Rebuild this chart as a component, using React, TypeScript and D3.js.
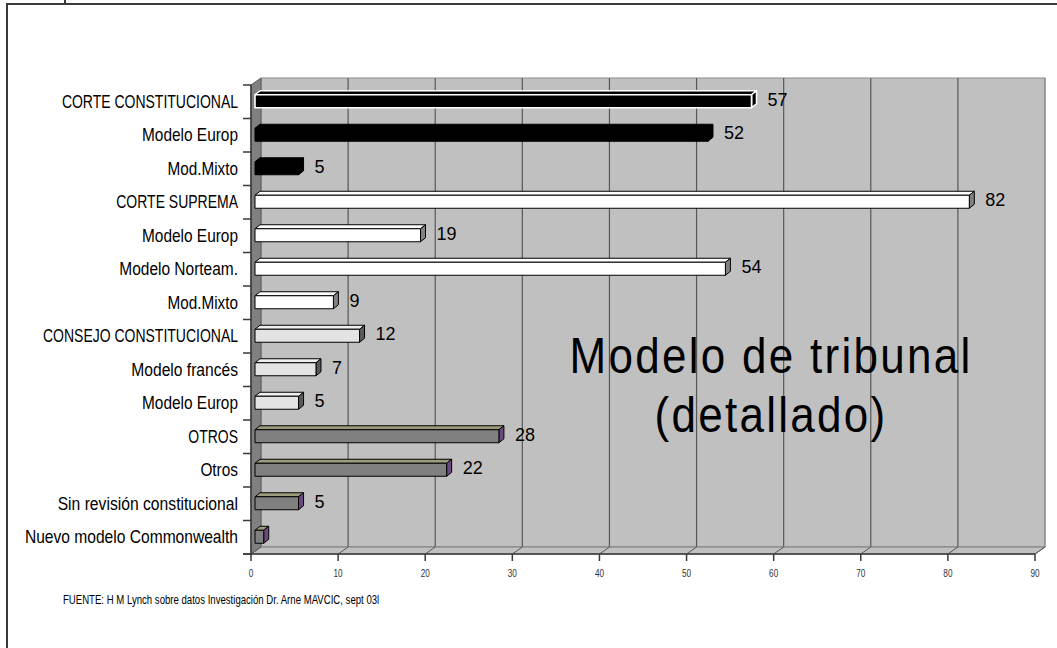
import React from 'react';
import * as d3 from 'd3';

// categories, top to bottom (names repeat, so rows are keyed by index)
const categories = [
  'CORTE CONSTITUCIONAL',
  'Modelo Europ',
  'Mod.Mixto',
  'CORTE SUPREMA',
  'Modelo Europ',
  'Modelo Norteam.',
  'Mod.Mixto',
  'CONSEJO CONSTITUCIONAL',
  'Modelo francés',
  'Modelo Europ',
  'OTROS',
  'Otros',
  'Sin revisión constitucional',
  'Nuevo modelo Commonwealth',
];
const values = [57, 52, 5, 82, 19, 54, 9, 12, 7, 5, 28, 22, 5, 1];
// which family each row belongs to (drives the colour)
const groups = ['head1', 'cc', 'cc', 'cs', 'cs', 'cs', 'cs', 'cons', 'cons', 'cons', 'otros', 'otros', 'otros', 'otros'];
// rows whose value label is not shown
const hiddenLabels = [13];
const xTicks = [0, 10, 20, 30, 40, 50, 60, 70, 80, 90];

const titleLines = ['Modelo de tribunal', '(detallado)'];
const source = 'FUENTE: H M Lynch sobre datos Investigación Dr. Arne MAVCIC, sept 03l';

const W = 1057;
const H = 648;
const sans = "'Liberation Sans', Arial, sans-serif";

// face colours per group: front, top, side, stroke
const palette: Record<string, { front: string; top: string; side: string; stroke: string }> = {
  head1: { front: '#000000', top: '#000000', side: '#000000', stroke: '#ffffff' },
  cc: { front: '#000000', top: '#000000', side: '#000000', stroke: '#000000' },
  cs: { front: '#ffffff', top: '#ffffff', side: '#808080', stroke: '#000000' },
  cons: { front: '#e3e3e3', top: '#efefef', side: '#5a5a5a', stroke: '#000000' },
  otros: { front: '#808080', top: '#9c9c7c', side: '#6b4a80', stroke: '#000000' },
};

// Arial Narrow keeps lowercase relatively wider than caps; approximate that
const squeezeFor = (s: string) => {
  const letters = s.replace(/[^A-Za-zÀ-ÿ]/g, '');
  const lower = letters.replace(/[^a-zà-ÿ]/g, '').length;
  return 0.8 + 0.1 * (letters.length ? lower / letters.length : 0);
};

// no "Arial Narrow" installed: squeeze Liberation Sans horizontally instead
const Narrow: React.FC<{
  x: number;
  y: number;
  size: number;
  anchor?: 'start' | 'middle' | 'end';
  squeeze?: number;
  spacing?: number;
  fill?: string;
  children: React.ReactNode;
}> = ({ x, y, size, anchor = 'start', squeeze = 0.82, spacing = 0, fill = '#000', children }) => (
  <text
    transform={`translate(${x},${y}) scale(${squeeze},1)`}
    textAnchor={anchor}
    fontFamily={sans}
    fontSize={size}
    letterSpacing={spacing}
    fill={fill}
  >
    {children}
  </text>
);

const App: React.FC = () => {
  // plot box (front plane)
  const left = 251;
  const right = 1035;
  const top = 85;
  const bottom = 554;
  // depth of the 3D box
  const dx = 10;
  const dy = 7;
  // bars sit a little way into the box, with their own small depth
  const bOff = 4;
  const bdx = 5;
  const bdy = 4;

  const x = d3.scaleLinear().domain([0, 90]).range([left, right]);
  const y = d3.scaleBand<number>().domain(d3.range(categories.length)).range([top, bottom]);
  const band = y.bandwidth();

  const gridColor = '#575757';

  return (
    <svg width={W} height={H} style={{ position: 'absolute', left: 0, top: 0, background: '#fff' }}>
      {/* outer frame */}
      <rect x={7} y={4} width={1200} height={800} fill="none" stroke="#3a3a3a" strokeWidth={2} />
      <line x1={65} x2={65} y1={0} y2={4} stroke="#3a3a3a" strokeWidth={2} />

      {/* back wall */}
      <rect x={left + dx} y={top - dy} width={right - left} height={bottom - top} fill="#c0c0c0" stroke="#8a8a8a" strokeWidth={1} />
      {xTicks.slice(1).map(t => (
        <line key={'g' + t} x1={x(t) + dx} x2={x(t) + dx} y1={top - dy} y2={bottom - dy} stroke={t === 90 ? '#8a8a8a' : gridColor} strokeWidth={1.2} />
      ))}
      {/* side wall */}
      <polygon
        points={`${left},${top} ${left + dx},${top - dy} ${left + dx},${bottom - dy} ${left},${bottom}`}
        fill="#808080"
        stroke="#5a5a5a"
        strokeWidth={1}
      />
      {/* floor */}
      <polygon
        points={`${left},${bottom} ${left + dx},${bottom - dy} ${right + dx},${bottom - dy} ${right},${bottom}`}
        fill="#c0c0c0"
        stroke="#7a7a7a"
        strokeWidth={1}
      />
      {xTicks.map(t => (
        <line key={'f' + t} x1={x(t)} x2={x(t) + dx} y1={bottom} y2={bottom - dy} stroke={gridColor} strokeWidth={1} />
      ))}

      {/* title inside the plot */}
      {titleLines.map((l, k) => (
        <Narrow key={'t' + k} x={771} y={373 + k * 59} size={50} anchor="middle" squeeze={0.88} spacing={2.6}>
          {l}
        </Narrow>
      ))}

      {/* bars */}
      {values.map((v, i) => {
        const c = palette[groups[i]];
        const cy = (y(i) as number) + band / 2;
        const y0 = cy - 7;
        const y1 = cy + 6;
        const x0 = x(0) + bOff;
        const x1 = x(v) + bOff;
        const sw = groups[i] === 'head1' ? 1.6 : 1;
        return (
          <g key={'b' + i} strokeLinejoin="round">
            <polygon
              points={`${x0},${y0} ${x0 + bdx},${y0 - bdy} ${x1 + bdx},${y0 - bdy} ${x1},${y0}`}
              fill={c.top}
              stroke={c.stroke}
              strokeWidth={sw}
            />
            <polygon
              points={`${x1},${y0} ${x1 + bdx},${y0 - bdy} ${x1 + bdx},${y1 - bdy} ${x1},${y1}`}
              fill={c.side}
              stroke={c.stroke}
              strokeWidth={sw}
            />
            <rect x={x0} y={y0} width={x1 - x0} height={y1 - y0} fill={c.front} stroke={c.stroke} strokeWidth={sw} />
          </g>
        );
      })}

      {/* value labels */}
      {values.map((v, i) =>
        hiddenLabels.includes(i) ? null : (
          <text
            key={'v' + i}
            x={x(v) + bOff + 16}
            y={(y(i) as number) + band / 2 - 2}
            dominantBaseline="central"
            fontFamily={sans}
            fontSize={18}
            fill="#000"
          >
            {v}
          </text>
        )
      )}

      {/* y axis */}
      <line x1={left} x2={left} y1={top} y2={bottom} stroke="#3a3a3a" strokeWidth={1.5} />
      {d3.range(categories.length + 1).map(k => {
        const yy = top + k * band;
        return <line key={'yt' + k} x1={left - 8} x2={left} y1={yy} y2={yy} stroke="#3a3a3a" strokeWidth={1.5} />;
      })}
      {categories.map((c, i) => (
        <Narrow key={'c' + i} x={238} y={(y(i) as number) + band / 2 + 6} size={17.5} anchor="end" squeeze={squeezeFor(c)}>
          {c}
        </Narrow>
      ))}

      {/* x axis */}
      <line x1={left - 8} x2={right} y1={bottom} y2={bottom} stroke="#3a3a3a" strokeWidth={1.5} />
      {xTicks.map(t => (
        <g key={'xt' + t}>
          <line x1={x(t)} x2={x(t)} y1={bottom} y2={bottom + 7} stroke="#3a3a3a" strokeWidth={1.5} />
          <Narrow x={x(t)} y={577} size={10} anchor="middle" fill="#333">
            {t}
          </Narrow>
        </g>
      ))}

      {/* source */}
      <Narrow x={63} y={604} size={12} squeeze={0.8}>
        {source}
      </Narrow>
    </svg>
  );
};

export default App;
